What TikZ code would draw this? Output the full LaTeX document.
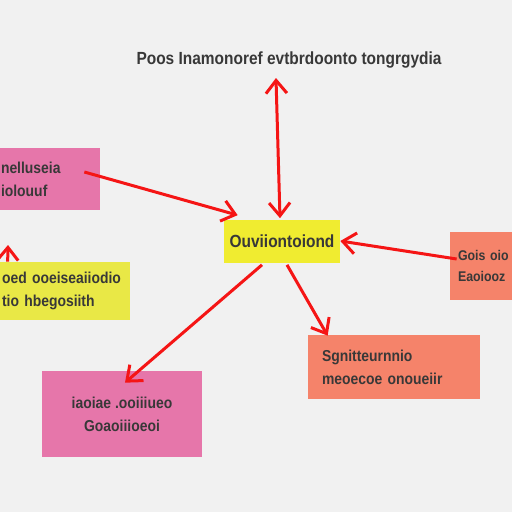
\documentclass[tikz,border=0pt]{standalone}
\usepackage{fontspec}
\setmainfont{Liberation Sans}
\newfontfamily\notefont[FakeStretch=0.88]{Liberation Sans}
\usetikzlibrary{arrows.meta,calc}

\definecolor{paper}{HTML}{F1F1F1}
\definecolor{notepink}{HTML}{E676AA}
\definecolor{noteyellow}{HTML}{E9E846}
\definecolor{hubyellow}{HTML}{F0EC30}
\definecolor{notesalmon}{HTML}{F5836A}
\definecolor{inkgray}{HTML}{383838}
\definecolor{linkred}{HTML}{F51515}

\begin{document}
\begin{tikzpicture}[x=0.02cm,y=-0.02cm,
  note/.style={inner sep=0pt,text=inkgray,font=\notefont\bfseries\small,align=center},
  link/.style={draw=linkred,line width=0.06cm,-{Straight Barb[length=0.26cm,width=0.42cm]}}]
\fill[paper] (0,0) rectangle (512,512);
\useasboundingbox (0,0) rectangle (512,512);

\node[note,font=\notefont\bfseries\normalsize] (title) at (289,60) {Poos Inamonoref evtbrdoonto tongrgydia};
\coordinate (tip) at (276,78);

\node[note,fill=hubyellow,minimum width=2.32cm,minimum height=0.86cm,font=\notefont\bfseries\normalsize] (hub) at (282,241) {Ouviiontoiond};

\node[note,fill=notepink,minimum width=2.64cm,minimum height=1.24cm,text width=1.32cm,align=left] (pinkA) at (34,179) {nelluseia\\[2pt]iolouuf};
\node[note,fill=noteyellow,minimum width=2.72cm,minimum height=1.16cm,text width=2.4cm,align=left] (yellowA) at (62,291) {oed ooeiseaiiodio\\[2pt]tio hbegosiith};
\node[note,fill=notesalmon,minimum width=1.6cm,minimum height=1.36cm,text width=1.28cm,align=left,font=\notefont\bfseries\footnotesize] (rightB) at (490,266) {Gois oio\\[2pt]Eaoiooz};
\node[note,fill=notesalmon,minimum width=3.44cm,minimum height=1.28cm,text width=2.88cm,align=left] (salmonB) at (394,367) {Sgnitteurnnio\\[2pt]meoecoe onoueiir};
\node[note,fill=notepink,minimum width=3.2cm,minimum height=1.72cm] (pinkB) at (122,414) {iaoiae .ooiiiueo\\[2pt]Goaoiiioeoi};
\coordinate (stub) at (8,245);

\draw[link,{Straight Barb[length=0.26cm,width=0.42cm]}-{Straight Barb[length=0.26cm,width=0.42cm]}] ($(hub.north)+(-2,-1)$) -- (tip);
\draw[link] ($(pinkA.east)+(-16,-7)$) -- ($(hub.north west)+(14,-4)$);
\draw[link] ($(rightB.west)+(7,-7)$) -- (hub.east);
\draw[link] ($(hub.south)+(-20,2)$) -- ($(pinkB.north)+(3,12)$);
\draw[link] ($(hub.south)+(5,2)$) -- ($(salmonB.north west)+(20,1)$);
\draw[link] ($(yellowA.north west)+(14,0)$) -- (stub);
\end{tikzpicture}
\end{document}
